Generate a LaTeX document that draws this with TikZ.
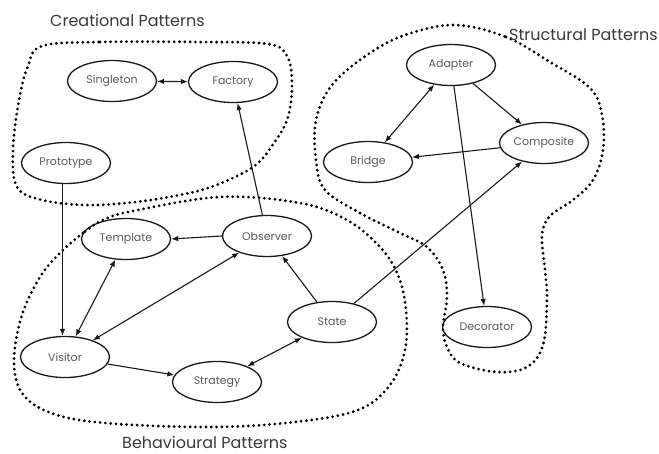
\documentclass[tikz,border=0pt]{standalone}
\usepackage{fontspec}
\setmainfont{Poppins}
\usetikzlibrary{shapes.geometric,arrows.meta}
\tikzset{
  pat/.style={ellipse, draw=black!90, line width=1.3pt, minimum width=89pt, minimum height=41pt, inner sep=0pt, text=black!65, font=\fontsize{11}{12}\selectfont},
  grp/.style={line width=3.1pt, line cap=round, dash pattern=on 0pt off 5.3pt, black},
  lbl/.style={text=black!78, font=\fontsize{16}{18}\selectfont, inner sep=0pt},
  conn/.style={line width=1.1pt, black!90, -{Latex[length=7pt,width=5.5pt]}},
  bconn/.style={line width=1.1pt, black!90, {Latex[length=7pt,width=5.5pt]}-{Latex[length=7pt,width=5.5pt]}}
}
\begin{document}
\begin{tikzpicture}[x=1pt,y=-1pt]
\useasboundingbox (0,0) rectangle (659,453);
% group outlines
\draw[grp] plot[smooth cycle, tension=0.6] coordinates {(42,46) (100,42) (200,42) (268,44) (287,56) (292,83) (288,117) (274,143) (253,167) (211,187) (169,197) (126,203) (84,205) (42,200) (17,187) (13,150) (19,100) (28,66)};
\draw[grp] plot[smooth cycle, tension=0.6] coordinates {(103,220) (83,233) (60,253) (40,277) (22,315) (14,360) (22,393) (51,413) (105,423) (211,427) (295,422) (358,410) (390,385) (405,350) (406,310) (398,275) (380,247) (347,220) (300,203) (220,197) (133,211)};
\draw[grp] plot[smooth cycle, tension=0.6] coordinates {(455,25) (506,37) (550,62) (590,88) (602,115) (603,150) (593,180) (573,200) (550,216) (542,235) (545,270) (547,300) (543,345) (527,367) (497,372) (460,363) (447,347) (443,327) (447,297) (443,270) (427,247) (400,233) (360,213) (325,190) (316,160) (316,120) (332,85) (367,55) (405,35)};
% labels
\node[lbl, anchor=west] (lc) at (50,20) {Creational Patterns};
\node[lbl, anchor=west] (ls) at (509,35) {Structural Patterns};
\node[lbl, anchor=west] (lb) at (122,442) {Behavioural Patterns};
% nodes
\node[pat] (singleton) at (112,81) {Singleton};
\node[pat] (factory) at (233,82) {Factory};
\node[pat] (prototype) at (66,163) {Prototype};
\node[pat] (adapter) at (451,65) {Adapter};
\node[pat] (composite) at (544,143) {Composite};
\node[pat] (bridge) at (368,162) {Bridge};
\node[pat] (template) at (126,239) {Template};
\node[pat] (observer) at (267,236) {Observer};
\node[pat] (state) at (332,322) {State};
\node[pat] (visitor) at (65,357) {Visitor};
\node[pat] (strategy) at (217,382) {Strategy};
\node[pat] (decorator) at (487,327) {Decorator};
% connectors
\draw[bconn] (singleton) -- (factory);
\draw[conn] (observer) -- (factory);
\draw[conn] ([xshift=-3.5pt]prototype.south) -- ([xshift=-2.5pt]visitor.north);
\draw[conn] (observer.west) -- (template.east);
\draw[bconn] (template) -- (visitor);
\draw[bconn] (observer) -- (visitor);
\draw[conn] (state) -- (observer);
\draw[conn] (visitor) -- (strategy);
\draw[bconn] (strategy) -- (state);
\draw[conn] (state) -- (composite);
\draw[bconn] (adapter) -- (bridge);
\draw[conn] (adapter) -- (composite);
\draw[conn] (composite) -- (bridge);
\draw[conn] (adapter) -- (decorator);
\end{tikzpicture}
\end{document}
